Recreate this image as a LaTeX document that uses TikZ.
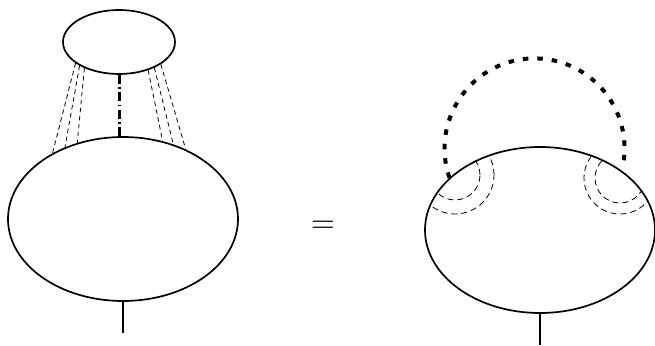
\documentclass[tikz,border=0pt]{standalone}
\usetikzlibrary{shapes.geometric}
\tikzset{
  blob/.style={draw, ellipse, line width=1.7pt, inner sep=0pt},
  leg/.style={line width=1.7pt},
  rung/.style={line width=0.8pt, dash pattern=on 4.5pt off 3.5pt},
  halo/.style={line width=0.8pt, dash pattern=on 6pt off 4pt},
}
\begin{document}
\begin{tikzpicture}[x=1pt, y=1pt]
  \useasboundingbox (0,0) rectangle (655,345);
  \node[blob, minimum width=112pt, minimum height=64pt] (top) at (119,303) {};
  \node[blob, minimum width=230pt, minimum height=164pt] (left) at (123,126) {};
  \node[blob, minimum width=230pt, minimum height=166pt] (right) at (540,115) {};
  \coordinate (leftleg) at (123,12);
  \coordinate (rightleg) at (540,0);
  \node[scale=3.1] (eq) at (323,118.5) {$=$};

  \draw[leg] (left.south) -- (leftleg);
  \draw[leg] (right.south) -- (rightleg);

  % propagators between the two blobs
  \draw[line width=3pt, dash pattern=on 9pt off 3.5pt on 1.5pt off 3.5pt] (top.south) -- (top.south |- left.north);
  \draw[rung] (top.206) -- (left.137);
  \draw[rung] (top.211) -- (left.129);
  \draw[rung] (top.217) -- (left.121);
  \draw[rung] (top.316) -- (left.63);
  \draw[rung] (top.324) -- (left.56);
  \draw[rung] (top.332) -- (left.48);

  % closed loop on the right blob
  \draw[line width=4pt, dash pattern=on 5.5pt off 9pt] (right.150) arc[start angle=199, end angle=-12, radius=90];
  \begin{scope}
    \clip (right.center) ellipse [x radius=115, y radius=83];
    \draw[halo] (455,170) circle[radius=25];
    \draw[halo] (455,170) circle[radius=39];
    \draw[halo] (620,167) circle[radius=25];
    \draw[halo] (620,167) circle[radius=36];
  \end{scope}
\end{tikzpicture}
\end{document}
